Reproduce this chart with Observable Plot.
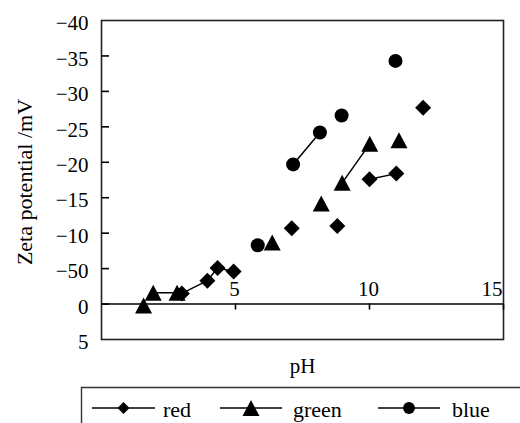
<!DOCTYPE html>
<html><head><meta charset="utf-8">
<script src="https://cdn.jsdelivr.net/npm/d3@7"></script>
<script src="https://cdn.jsdelivr.net/npm/@observablehq/plot@0.6"></script>
<style>
html,body{margin:0;padding:0;background:#fff;overflow:hidden;width:520px;height:423px;position:relative;}
#chart svg{display:block}
#legend{position:absolute;left:0;top:380px;width:520px;height:43px;}
</style></head><body>
<div id="chart"></div>
<div id="legend"></div>
<script>
// ---- data ----
const seriesNames = ["red", "green", "blue"];
// null entries mark gaps in the connecting lines
const redPH     = [3.0, 3.95, 4.33, 4.93, null, 7.1, null, 8.8, null, 10.0, 11.0, null, 12.0];
const redZeta   = [-1.5, -3.3, -5.1, -4.6, null, -10.7, null, -11.0, null, -17.6, -18.4, null, -27.7];
const greenPH   = [1.57, null, 1.93, 2.82, null, 6.37, null, 8.2, null, 8.98, 10.01, null, 11.1];
const greenZeta = [0.2, null, -1.6, -1.6, null, -8.7, null, -14.2, null, -17.1, -22.6, null, -23.1];
const bluePH    = [5.83, null, 7.15, 8.15, null, 8.96, null, 10.97];
const blueZeta  = [-8.3, null, -19.7, -24.2, null, -26.6, null, -34.3];
const yTicks      = [-40, -35, -30, -25, -20, -15, -10, -5, 0, 5];
const yTickLabels = ["−40", "−35", "−30", "−25", "−20", "−15", "−10", "−50", "0", "5"];
const xTicks      = [5, 10, 15];
const xTickLabels = ["5", "10", "15"];
const xLabel = "pH";
const yLabel = "Zeta potential /mV";

// ---- build tables ----
const rows = (ph, z) => ph.map((p, i) => ({pH: p, zeta: z[i]}));
const red = rows(redPH, redZeta), green = rows(greenPH, greenZeta), blue = rows(bluePH, blueZeta);

// Excel-like marker symbols
const symDiamond = {draw(c) { const r = 8; c.moveTo(0, -r); c.lineTo(r, 0); c.lineTo(0, r); c.lineTo(-r, 0); c.closePath(); }};
const symTriangle = {draw(c) { const w = 8.5, h = 8; c.moveTo(0, -h); c.lineTo(w, h); c.lineTo(-w, h); c.closePath(); }};
const symCircle = {draw(c) { c.moveTo(7, 0); c.arc(0, 0, 7, 0, 2 * Math.PI); }};

const font = "'Liberation Serif', 'Times New Roman', serif";
const labelOf = (ticks, labels) => d => labels[ticks.indexOf(d)];

const chart = Plot.plot({
  width: 520, height: 380,
  marginTop: 20, marginLeft: 101, marginRight: 17, marginBottom: 41,
  style: {fontFamily: font, fontSize: "21px", color: "#000", background: "#fff", overflow: "visible"},
  x: {domain: [0, 15], axis: null},
  y: {domain: [-40, 5], reverse: true, axis: null},
  marks: [
    Plot.frame({stroke: "#222", strokeWidth: 1.6}),
    Plot.ruleY([0], {stroke: "#000", strokeWidth: 1.6}),
    // inward y ticks
    Plot.tickY(yTicks.filter(d => d > -40 && d < 5), {y: d => d, insetRight: 394, stroke: "#000", strokeWidth: 1.6}),
    Plot.axisY({ticks: yTicks, tickSize: 0, tickPadding: 13, dy: 3, tickFormat: labelOf(yTicks, yTickLabels), label: null, fontSize: 21}),
    Plot.text([yLabel], {frameAnchor: "left", textAnchor: "middle", lineAnchor: "middle", text: d => d, rotate: -90, dx: -77, dy: 2, fontSize: 22}),
    // x ticks on the zero line, labels above it
    Plot.ruleX(xTicks, {x: d => d, y1: 0, y2: 0, insetBottom: -6, stroke: "#000", strokeWidth: 1.6}),
    Plot.text(xTicks.filter(d => d < 15), {x: d => d, y: 0, text: labelOf(xTicks, xTickLabels), dy: -15, dx: -1, fontSize: 21}),
    Plot.text(xTicks.filter(d => d === 15), {x: d => d, y: 0, text: labelOf(xTicks, xTickLabels), dy: -15, dx: -1, textAnchor: "end", fontSize: 21}),
    Plot.text([xLabel], {frameAnchor: "bottom", lineAnchor: "middle", text: d => d, dy: 27, fontSize: 21}),
    // series
    Plot.line(red, {x: "pH", y: "zeta", stroke: "#000", strokeWidth: 1.5}),
    Plot.line(green, {x: "pH", y: "zeta", stroke: "#000", strokeWidth: 1.5}),
    Plot.line(blue, {x: "pH", y: "zeta", stroke: "#000", strokeWidth: 1.5}),
    Plot.dot(red, {x: "pH", y: "zeta", symbol: symDiamond, fill: "#000", stroke: "none"}),
    Plot.dot(green, {x: "pH", y: "zeta", symbol: symTriangle, fill: "#000", stroke: "none"}),
    Plot.dot(blue, {x: "pH", y: "zeta", symbol: symCircle, fill: "#000", stroke: "none"})
  ]
});
document.getElementById("chart").appendChild(chart);

// ---- legend (below the svg) ----
const lg = d3.select("#legend").append("svg").attr("width", 520).attr("height", 43).style("display", "block");
lg.append("path").attr("d", "M81.5,60 V7.5 H540").attr("fill", "none").attr("stroke", "#333").attr("stroke-width", 1.4);
const items = [
  {name: seriesNames[0], x0: 92, x1: 155, sym: symDiamond, scale: 0.75, tx: 163},
  {name: seriesNames[1], x0: 220, x1: 282, sym: symTriangle, scale: 1, tx: 293},
  {name: seriesNames[2], x0: 378, x1: 440, sym: symCircle, scale: 0.85, tx: 452}
];
items.forEach(it => {
  const yc = 28;
  lg.append("line").attr("x1", it.x0).attr("x2", it.x1).attr("y1", yc).attr("y2", yc).attr("stroke", "#000").attr("stroke-width", 1.5);
  const p = d3.path(); it.sym.draw(p);
  lg.append("path").attr("d", p.toString()).attr("fill", "#000")
    .attr("transform", `translate(${(it.x0 + it.x1) / 2},${yc}) scale(${it.scale})`);
  lg.append("text").attr("x", it.tx).attr("y", 37).attr("font-family", font).attr("font-size", 22).attr("fill", "#000").text(it.name);
});
</script>
</body></html>
